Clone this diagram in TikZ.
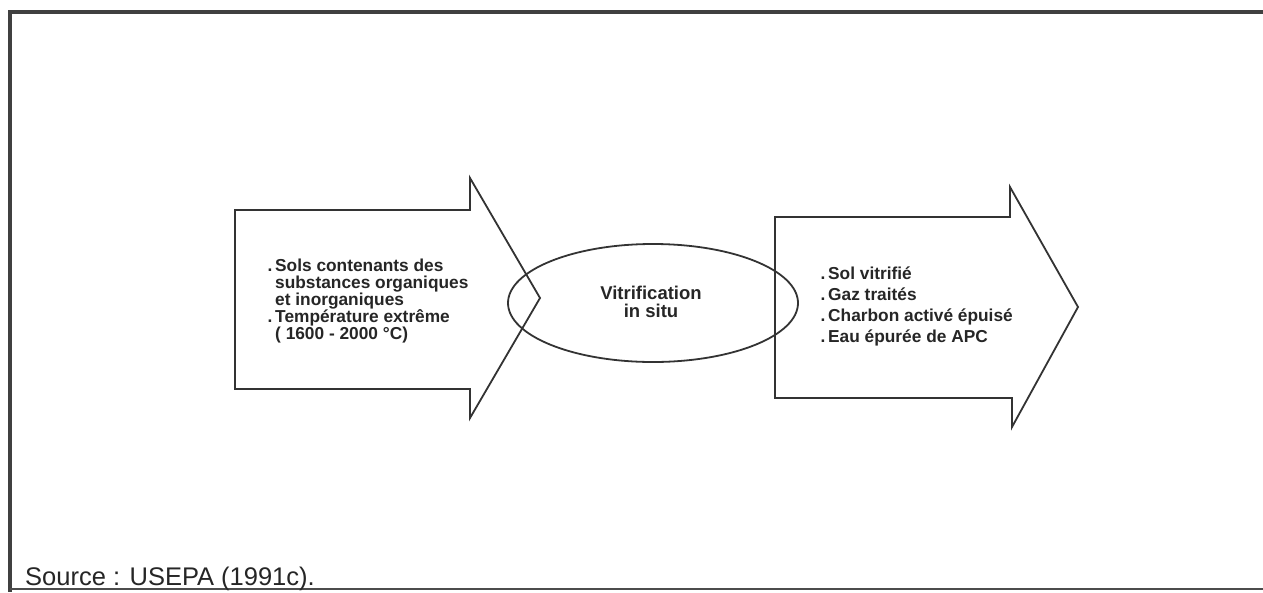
\documentclass[tikz,border=0pt]{standalone}
\usepackage{fontspec}
\setmainfont{Liberation Sans}
\usetikzlibrary{shapes.geometric}
\begin{document}
\begin{tikzpicture}[x=1pt,y=-1pt,
  ink/.style={draw=black!80, line width=1.8pt, line join=miter},
  txt/.style={text=black!85, inner sep=0pt, align=left, font=\bfseries\fontsize{17.3}{16.9}\selectfont},
  txtr/.style={text=black!85, inner sep=0pt, align=left, font=\bfseries\fontsize{17.3}{21}\selectfont}]
\useasboundingbox (0,0) rectangle (1263,592);
\fill[white] (0,0) rectangle (1263,592);
% frame
\draw[black!75, line width=4pt] (8,12) -- (1263,12);
\draw[black!75, line width=4pt] (10,10) -- (10,592);
\draw[black!70, line width=2pt] (10,589) -- (1263,589);
% left arrow
\draw[ink] (235,210) -- (470,210) -- (470,178) -- (540,298) -- (470,418) -- (470,389) -- (235,389) -- cycle;
% right arrow
\draw[ink] (775,217) -- (1010,217) -- (1010,187) -- (1078,307) -- (1012,427) -- (1012,398) -- (775,398) -- cycle;
% ellipse
\node[ink, ellipse, minimum width=290pt, minimum height=118pt, inner sep=0pt] (proc) at (653,303) {};
\node[inner sep=0pt, text=black!85, align=center, font=\bfseries\fontsize{18.5}{18}\selectfont] (proclabel) at (651,302) {Vitrification\\in situ};
% texts
\node[txt, anchor=north west] (intext) at (275,259) {\llap{.\,}Sols contenants des\\substances organiques\\et inorganiques\\\llap{.\,}Température extrême\\( 1600 - 2000 °C)};
\node[txtr, anchor=north west] (outtext) at (828,267) {\llap{.\,}Sol vitrifié\\\llap{.\,}Gaz traités\\\llap{.\,}Charbon activé épuisé\\\llap{.\,}Eau épurée de APC};
\node[text=black!85, inner sep=0pt, anchor=base west, font=\fontsize{25.5}{28}\selectfont] (src) at (25,585) {Source : USEPA (1991c).};
\end{tikzpicture}
\end{document}
